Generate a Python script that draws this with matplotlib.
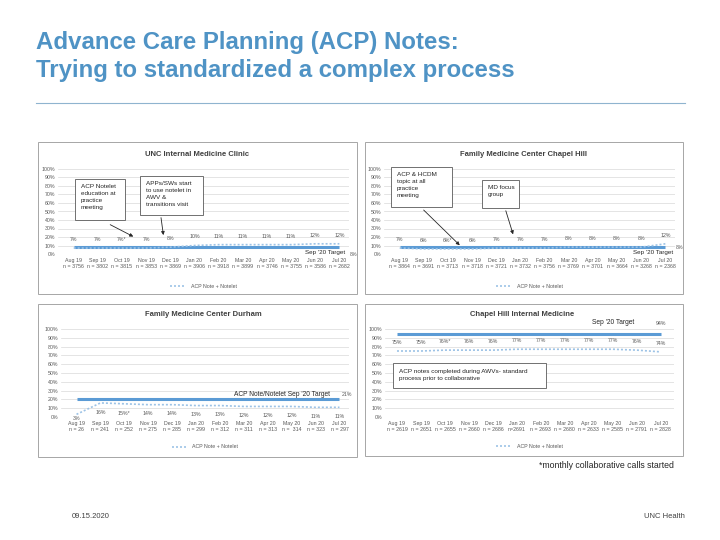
import matplotlib.pyplot as plt
from matplotlib.patches import Rectangle
from matplotlib.lines import Line2D

plt.rcParams['font.family'] = ['Liberation Sans', 'DejaVu Sans']

months = ['Aug 19', 'Sep 19', 'Oct 19', 'Nov 19', 'Dec 19', 'Jan 20',
          'Feb 20', 'Mar 20', 'Apr 20', 'May 20', 'Jun 20', 'Jul 20']

# UNC Internal Medicine Clinic
unc_vals = [7, 7, 7, 7, 8, 10, 11, 11, 11, 11, 12, 12]
unc_n = ['n = 3756', 'n = 3802', 'n = 3815', 'n = 3853', 'n = 3869', 'n = 3906',
         'n = 3918', 'n = 3899', 'n = 3746', 'n = 3755', 'n = 3586', 'n = 2682']
unc_target = 8

# Family Medicine Center Chapel Hill
fmch_vals = [7, 6, 6, 6, 7, 7, 7, 8, 8, 8, 8, 12]
fmch_n = ['n = 3864', 'n = 3691', 'n = 3713', 'n = 3718', 'n = 3721', 'n = 3732',
          'n = 3756', 'n = 3769', 'n = 3701', 'n = 3664', 'n = 3268', 'n = 2368']
fmch_target = 8

# Family Medicine Center Durham
fmd_vals = [3, 16, 15, 14, 14, 13, 13, 12, 12, 12, 11, 11]
fmd_n = ['n = 26', 'n = 241', 'n = 252', 'n = 275', 'n = 285', 'n = 299',
         'n = 312', 'n = 311', 'n = 313', 'n =  314', 'n = 323', 'n = 297']
fmd_target = 21

# Chapel Hill Internal Medicine
chim_vals = [75, 75, 76, 76, 76, 77, 77, 77, 77, 77, 76, 74]
chim_n = ['n = 2619', 'n = 2651', 'n = 2655', 'n = 2660', 'n = 2686', 'n=2691',
          'n = 2693', 'n = 2680', 'n = 2633', 'n = 2585', 'n = 2791', 'n = 2828']
chim_target = 94

W, H = 720, 540
BLUE = '#5B9BD5'
LIGHT = '#9DC3E6'
GREY = '#595959'

fig = plt.figure(figsize=(7.2, 5.4), dpi=100)


def px_axes(x0, y0, x1, y1):
    return fig.add_axes([x0 / W, 1 - y1 / H, (x1 - x0) / W, (y1 - y0) / H])


def box(x0, y0, x1, y1):
    # рамка панели в пикселях слайда
    fig.add_artist(Rectangle((x0 / W, 1 - y1 / H), (x1 - x0) / W, (y1 - y0) / H,
                             transform=fig.transFigure, fill=False,
                             ec='#A6A6A6', lw=0.7))


def panel(ax, title, title_x, title_y, vals, ns, target, lab_off, leg_y, star_x=2):
    ax.set_ylim(0, 100)
    ax.set_xlim(-0.65, 11.4)
    ax.set_yticks(range(0, 101, 10))
    ax.set_yticklabels([f'{v}%' for v in range(0, 101, 10)])
    ax.grid(axis='y', color='#D9D9D9', lw=0.5)
    ax.set_axisbelow(True)
    for s in ax.spines.values():
        s.set_visible(False)
    ax.tick_params(length=0, labelsize=3.8, colors=GREY, pad=2)
    ax.tick_params(axis='x', pad=3)
    ax.set_xticks(range(len(months)))
    ax.set_xticklabels([f'{m}\n{n}' for m, n in zip(months, ns)], linespacing=1.3)
    x = list(range(len(vals)))
    ax.plot(x, [target] * len(x), color=BLUE, lw=2.2, solid_capstyle='butt', zorder=2)
    ln, = ax.plot(x, vals, color=LIGHT, lw=1.2, ls=(0, (1.2, 1.2)), zorder=3)
    for i, v in enumerate(vals):
        t = f'{v}%' + ('*' if i == star_x else '')
        ax.text(i, max(v + lab_off, -1.5), t, ha='center', va='center',
                fontsize=3.8, color=GREY)
    fig.text(title_x / W, 1 - title_y / H, title, ha='center', va='center',
             fontsize=5.5, weight='bold', color='#404040')
    ax.legend([ln], ['ACP Note + Notelet'], loc='center', bbox_to_anchor=(0.5, leg_y),
              frameon=False, fontsize=3.8, handlelength=3, labelcolor=GREY)
    return ax


def note(ax, x0, y0, x1, y1, text):
    ax.add_patch(Rectangle((x0, y0), x1 - x0, y1 - y0, fc='white', ec='#595959',
                           lw=0.6, clip_on=False, zorder=5))
    ax.text(x0 + 0.25, y1 - 6, text, ha='left', va='top', fontsize=4.6,
            color='#262626', linespacing=1.5, zorder=6)


def arrow(ax, x0, y0, x1, y1):
    ax.annotate('', xy=(x1, y1), xytext=(x0, y0), annotation_clip=False,
                arrowprops=dict(arrowstyle='-|>', color='#262626', lw=0.6,
                                mutation_scale=5), zorder=6)


# заголовок слайда
fig.text(36 / W, 1 - 43 / H, 'Advance Care Planning (ACP) Notes:', fontsize=17.3,
         weight='bold', color='#4F93C5', va='center')
fig.text(36 / W, 1 - 71 / H, 'Trying to standardized a complex process', fontsize=17.3,
         weight='bold', color='#4F93C5', va='center')
fig.add_artist(Line2D([36 / W, 685 / W], [1 - 103 / H] * 2, color='#8FB4CF', lw=0.8))

box(38, 142, 357, 294)
box(365, 142, 683, 294)
box(38, 304, 357, 457)
box(365, 304, 683, 456)

# 1
ax1 = panel(px_axes(58, 169, 349, 254), 'UNC Internal Medicine Clinic', 197, 155,
            unc_vals, unc_n, unc_target, 10, -0.38)
ax1.text(10.4, 1.5, "Sep '20 Target", ha='center', va='center', fontsize=4.5, color='#262626')
ax1.text(11.6, 0, f'{unc_target}%', ha='center', va='center', fontsize=3.8, color=GREY)
note(ax1, 0.04, 40, 2.12, 88, 'ACP Notelet\neducation at\npractice\nmeeting')
arrow(ax1, 1.41, 36, 2.57, 19)
note(ax1, 2.74, 46, 5.35, 92, 'APPs/SWs start\nto use notelet in\nAWV &\ntransitions visit')
arrow(ax1, 3.6, 46, 3.73, 19)

# 2
ax2 = panel(px_axes(384, 169, 675, 254), 'Family Medicine Center Chapel Hill', 524, 155,
            fmch_vals, fmch_n, fmch_target, 10, -0.38)
ax2.text(10.5, 1.5, "Sep '20 Target", ha='center', va='center', fontsize=4.5, color='#262626')
ax2.text(11.6, 8, f'{fmch_target}%', ha='center', va='center', fontsize=3.8, color=GREY)
note(ax2, -0.37, 55, 2.16, 102, 'ACP & HCDM\ntopic at all\npractice\nmeeting')
arrow(ax2, 0.91, 54, 2.57, 8)
note(ax2, 3.4, 54, 4.94, 87, 'MD focus\ngroup')
arrow(ax2, 4.36, 54, 4.73, 20)

# 3
ax3 = panel(px_axes(61, 329, 349, 417), 'Family Medicine Center Durham', 203, 315,
            fmd_vals, fmd_n, fmd_target, -10.5, -0.34)
ax3.text(10.6, 25, "ACP Note/Notelet Sep '20 Target", ha='right', va='center',
         fontsize=4.8, color='#262626')
ax3.text(11.3, 26, f'{fmd_target}%', ha='center', va='center', fontsize=3.8, color=GREY)

# 4
ax4 = panel(px_axes(385, 329, 674, 417), 'Chapel Hill Internal Medicine', 522, 315,
            chim_vals, chim_n, chim_target, 9.5, -0.33)
ax4.set_xlim(-0.5, 11.55)
ax4.text(9.0, 107, "Sep '20 Target", ha='center', va='center', fontsize=4.8, color='#262626')
ax4.text(11, 106, f'{chim_target}%', ha='center', va='center', fontsize=3.8, color=GREY)
note(ax4, -0.17, 33, 6.2, 61, 'ACP notes completed during AWVs- standard\nprocess prior to collaborative')

fig.text(539 / W, 1 - 465 / H, '*monthly collaborative calls started', fontsize=6.3,
         color='#262626', va='center')
fig.text(72 / W, 1 - 516 / H, '09.15.2020', fontsize=5.5, color='#404040', va='center')
fig.text(685 / W, 1 - 516 / H, 'UNC Health', fontsize=5.5, color='#404040', va='center',
         ha='right')

fig.savefig('out.png', dpi=100)
